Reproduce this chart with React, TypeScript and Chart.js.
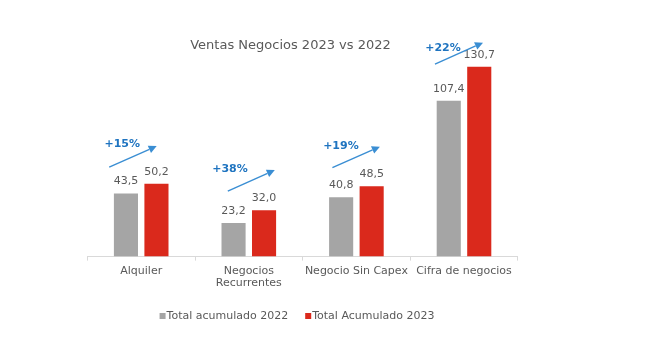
import React, { useEffect, useRef } from "react";
import { Chart, registerables } from "chart.js";

Chart.register(...registerables);

// ---- Data ----
const categories: string[][] = [["Alquiler"], ["Negocios", "Recurrentes"], ["Negocio Sin Capex"], ["Cifra de negocios"]];
const series2022: number[] = [43.5, 23.2, 40.8, 107.4];
const series2023: number[] = [50.2, 32.0, 48.5, 130.7];
const seriesNames: string[] = ["Total acumulado 2022", "Total Acumulado 2023"];
const titleText = "Ventas Negocios 2023 vs 2022";

// ---- Styling / layout ----
const FONT = "'DejaVu Sans', Verdana, sans-serif";
const TEXT_COLOR = "#595959";
const GRAY = "#A5A5A5";
const RED = "#DA291C";
const BLUE_LINE = "#3A8ED3";
const BLUE_TEXT = "#1F74C0";

// growth arrow placement, pixel offsets relative to pair centre and red bar top
const arrowLayout = [
  { x0: -32, y0: -16.6, x1: 15.5, y1: -37.6, tx: -19, ty: -39.3 },
  { x0: -21, y0: -19.1, x1: 26, y1: -40.1, tx: -18.8, ty: -41 },
  { x0: -24, y0: -18.5, x1: 23.5, y1: -39.5, tx: -15.5, ty: -40.2 },
  { x0: -29, y0: -2.8, x1: 19, y1: -24.1, tx: -21, ty: -18.5 },
];

const fmt = (v: number) => v.toFixed(1).replace(".", ",");

const overlayPlugin = {
  id: "overlay",
  afterDatasetsDraw(chart: any) {
    const ctx: CanvasRenderingContext2D = chart.ctx;
    ctx.save();
    // value labels
    ctx.font = `11px ${FONT}`;
    ctx.fillStyle = TEXT_COLOR;
    ctx.textAlign = "center";
    ctx.textBaseline = "middle";
    chart.data.datasets.forEach((ds: any, i: number) => {
      const meta = chart.getDatasetMeta(i);
      meta.data.forEach((bar: any, j: number) => {
        ctx.fillText(fmt(ds.data[j]), bar.x, bar.y - 12);
      });
    });

    // growth arrows
    const m0 = chart.getDatasetMeta(0);
    const m1 = chart.getDatasetMeta(1);
    series2022.forEach((v22, j) => {
      const v23 = series2023[j];
      const g = m0.data[j];
      const r = m1.data[j];
      const cx = (g.x + r.x) / 2;
      const top = r.y;
      const L = arrowLayout[j];
      const sx = cx + L.x0, sy = top + L.y0, ex = cx + L.x1, ey = top + L.y1;
      const ang = Math.atan2(ey - sy, ex - sx);
      const head = 8, half = 4;
      const bx = ex - head * Math.cos(ang), by = ey - head * Math.sin(ang);
      ctx.strokeStyle = BLUE_LINE;
      ctx.fillStyle = BLUE_LINE;
      ctx.lineWidth = 1.4;
      ctx.beginPath();
      ctx.moveTo(sx, sy);
      ctx.lineTo(bx, by);
      ctx.stroke();
      ctx.beginPath();
      ctx.moveTo(ex, ey);
      ctx.lineTo(bx + half * Math.sin(ang), by - half * Math.cos(ang));
      ctx.lineTo(bx - half * Math.sin(ang), by + half * Math.cos(ang));
      ctx.closePath();
      ctx.fill();
      const pct = Math.round((v23 / v22 - 1) * 100);
      ctx.font = `bold 11px ${FONT}`;
      ctx.fillStyle = BLUE_TEXT;
      ctx.fillText(`+${pct}%`, cx + L.tx, top + L.ty);
    });

    // title
    ctx.font = `13px ${FONT}`;
    ctx.fillStyle = TEXT_COLOR;
    ctx.fillText(titleText, 282.5, 37.5);

    // legend
    ctx.font = `11px ${FONT}`;
    const colors = [GRAY, RED];
    const sq = 6, gap = 1, spacing = 17;
    const widths = seriesNames.map((n) => ctx.measureText(n).width);
    const total = widths.reduce((a, w) => a + sq + gap + w, 0) + spacing;
    let x = 289 - total / 2;
    const ly = 308;
    ctx.textAlign = "left";
    seriesNames.forEach((n, i) => {
      ctx.fillStyle = colors[i];
      ctx.fillRect(x, ly - sq / 2, sq, sq);
      x += sq + gap;
      ctx.fillStyle = TEXT_COLOR;
      ctx.fillText(n, x, ly);
      x += widths[i] + spacing;
    });
    ctx.restore();
  },
};

export default function App() {
  const ref = useRef<HTMLCanvasElement>(null);
  useEffect(() => {
    if (!ref.current) return;
    const chart = new Chart(ref.current, {
      type: "bar",
      data: {
        labels: categories,
        datasets: [
          { label: seriesNames[0], data: series2022, backgroundColor: GRAY, categoryPercentage: 0.567, barPercentage: 0.79 },
          { label: seriesNames[1], data: series2023, backgroundColor: RED, categoryPercentage: 0.567, barPercentage: 0.79 },
        ],
      },
      options: {
        responsive: false,
        animation: false,
        layout: { padding: { left: 79.4, right: 140.2, top: 30.8, bottom: 54.4 } },
        plugins: { legend: { display: false }, title: { display: false }, tooltip: { enabled: false } },
        scales: {
          x: {
            grid: { display: true, drawOnChartArea: false, drawTicks: true, tickLength: 4, color: "#D9D9D9", offset: true },
            border: { display: true, color: "#D9D9D9" },
            ticks: { color: TEXT_COLOR, font: { family: FONT, size: 11, lineHeight: 1.05 }, padding: 5, maxRotation: 0, autoSkip: false },
            afterFit: (s: any) => { s.height = 40; },
          },
          y: { display: false, min: 0, max: 150 },
        },
      },
      plugins: [overlayPlugin],
    });
    return () => chart.destroy();
  }, []);
  return (
    <div style={{ width: 650, height: 343 }}>
      <canvas ref={ref} width={650} height={343} />
    </div>
  );
}
